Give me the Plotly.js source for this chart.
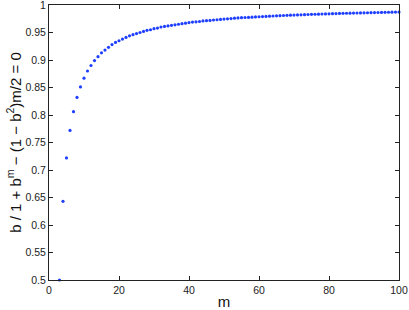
<!DOCTYPE html>
<html>
<head>
<meta charset="utf-8">
<script src="https://cdn.plot.ly/plotly-3.0.1.min.js"></script>
<style>html,body{margin:0;padding:0;background:#fff;}#chart{width:409px;height:310px;}</style>
</head>
<body>
<div id="chart"></div>
<script>
const m = [];
for (let i = 3; i <= 100; i++) m.push(i);
const b = [
  0.500, 0.643, 0.722, 0.772, 0.806, 0.832, 0.851, 0.867, 0.880, 0.890,
  0.899, 0.906, 0.913, 0.918, 0.923, 0.928, 0.932, 0.935, 0.938, 0.941,
  0.944, 0.946, 0.948, 0.950, 0.952, 0.954, 0.955, 0.957, 0.958, 0.960,
  0.961, 0.962, 0.963, 0.964, 0.965, 0.966, 0.967, 0.968, 0.969, 0.9695,
  0.970, 0.971, 0.9715, 0.972, 0.9727, 0.9732, 0.9738, 0.9744, 0.9749, 0.9754,
  0.9760, 0.9765, 0.9769, 0.9773, 0.9775, 0.9779, 0.9783, 0.9786, 0.9790, 0.9793,
  0.9797, 0.9800, 0.9803, 0.9806, 0.9809, 0.9812, 0.9815, 0.9817, 0.9820, 0.9822,
  0.9825, 0.9827, 0.9830, 0.9832, 0.9834, 0.9836, 0.9838, 0.9840, 0.9842, 0.9844,
  0.9846, 0.9848, 0.9850, 0.9851, 0.9853, 0.9855, 0.9856, 0.9858, 0.9859, 0.9861,
  0.9862, 0.9864, 0.9865, 0.9867, 0.9868, 0.9869, 0.9871, 0.9872
];
const xTicks = [0, 20, 40, 60, 80, 100];
const yTicks = [0.5, 0.55, 0.6, 0.65, 0.7, 0.75, 0.8, 0.85, 0.9, 0.95, 1];
const yTickText = ['0.5', '0.55', '0.6', '0.65', '0.7', '0.75', '0.8', '0.85', '0.9', '0.95', '1'];

const font = 'Liberation Sans, Arial, Helvetica, sans-serif';
const trace = {
  x: m, y: b, type: 'scatter', mode: 'markers',
  marker: {color: '#1f3fff', size: 3.2, line: {width: 0}},
  cliponaxis: false, hoverinfo: 'none'
};
const axisCommon = {
  showline: true, mirror: 'ticks', linecolor: '#222', linewidth: 1,
  ticks: 'inside', ticklen: 4, tickcolor: '#222', tickwidth: 1,
  showgrid: false, zeroline: false, ticklabeloverflow: 'allow',
  tickfont: {family: font, size: 10.5, color: '#222'}
};
const layout = {
  width: 409, height: 310,
  margin: {l: 49, r: 10, t: 5, b: 30},
  paper_bgcolor: '#fff', plot_bgcolor: '#fff',
  showlegend: false,
  xaxis: Object.assign({}, axisCommon, {
    range: [0, 100], tickvals: xTicks, ticktext: xTicks.map(String),
    title: {text: 'm', font: {family: font, size: 15, color: '#111'}, standoff: 10}
  }),
  yaxis: Object.assign({}, axisCommon, {
    range: [0.4999999, 1.0000001], tickvals: yTicks, ticktext: yTickText,
    title: {text: 'b / 1 + b<sup>m</sup> \u2212 (1 \u2212 b<sup>2</sup>)m/2 = 0', font: {family: font, size: 15, color: '#111'}, standoff: 0}
  })
};
Plotly.newPlot('chart', [trace], layout, {staticPlot: true, displayModeBar: false});
</script>
</body>
</html>
